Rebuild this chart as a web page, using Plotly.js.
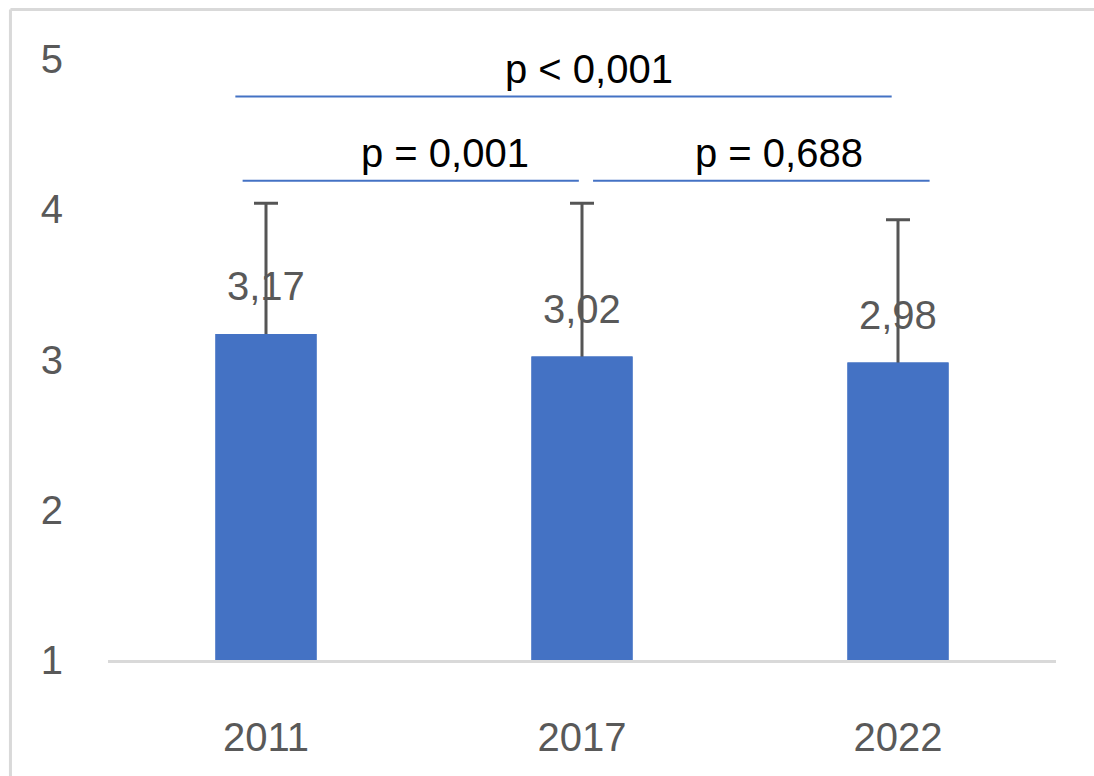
<!DOCTYPE html>
<html>
<head>
<meta charset="utf-8">
<script src="https://cdn.plot.ly/plotly-3.0.1.min.js"></script>
<style>
  html, body { margin: 0; padding: 0; background: #ffffff; }
  #chart { width: 1094px; height: 776px; }
</style>
</head>
<body>
<div id="chart"></div>
<script>
// ---- data ----
const years = ["2011", "2017", "2022"];
const means = [3.17, 3.02, 2.98];
const errors = [0.87, 1.02, 0.95];
const meanLabels = ["3,17", "3,02", "2,98"];
const yTicks = [1, 2, 3, 4, 5];

// significance brackets: [from index, to index, p-text]
const pTexts = ["p < 0,001", "p = 0,001", "p = 0,688"];
const pFrom = [0, 0, 1];
const pTo = [2, 1, 2];
const pLevel = [4.75, 4.19, 4.19];

const xs = years.map((_, i) => i);
const BLUE = "#4472C4";
const GREY = "#595959";
const FONT = "Liberation Sans, Arial, sans-serif";

const traces = [
  {
    type: "bar",
    x: xs,
    y: means,
    width: 0.32,
    marker: { color: BLUE },
    error_y: { type: "data", array: errors, symmetric: true, color: "#555555", thickness: 3, width: 12 },
    hoverinfo: "skip"
  },
  {
    type: "bar",
    x: xs,
    y: means,
    width: 0.32,
    marker: { color: BLUE },
    hoverinfo: "skip"
  }
];

const annotations = [];
xs.forEach((x, i) => {
  annotations.push({
    x: x, y: means[i], xref: "x", yref: "y",
    text: meanLabels[i], showarrow: false,
    yanchor: "middle", yshift: 48,
    font: { family: FONT, size: 40, color: GREY }
  });
});

const shapes = [];
const bracketPad = [[-0.097, -0.02], [-0.074, -0.01], [0.035, 0.10]];
const textShift = [0.08, 0.11, 0.055];
pTexts.forEach((t, k) => {
  const x0 = pFrom[k] + bracketPad[k][0];
  const x1 = pTo[k] + bracketPad[k][1];
  shapes.push({
    type: "line", xref: "x", yref: "y",
    x0: x0, x1: x1, y0: pLevel[k], y1: pLevel[k],
    line: { color: BLUE, width: 2 }
  });
  annotations.push({
    x: (x0 + x1) / 2 + textShift[k], y: pLevel[k], xref: "x", yref: "y",
    text: t, showarrow: false,
    yanchor: "bottom", yshift: 4,
    font: { family: FONT, size: 40, color: "#000000" }
  });
});

// outer frame (left and top edges)
shapes.push({
  type: "line", xref: "paper", yref: "paper",
  x0: -0.1029, x1: -0.1029, y0: 1.0824, y1: -0.3,
  line: { color: "#d9d9d9", width: 3 }
});
shapes.push({
  type: "line", xref: "paper", yref: "paper",
  x0: -0.1029, x1: 1.1, y0: 1.0824, y1: 1.0824,
  line: { color: "#d9d9d9", width: 3 }
});

const layout = {
  width: 1094, height: 776,
  margin: { l: 108, r: 38, t: 59, b: 116, pad: 0 },
  paper_bgcolor: "#ffffff",
  plot_bgcolor: "#ffffff",
  barmode: "overlay",
  showlegend: false,
  xaxis: {
    range: [-0.5, 2.5],
    tickvals: xs, ticktext: years,
    showgrid: false, zeroline: false,
    showline: true, linecolor: "#d9d9d9", linewidth: 3,
    ticks: "", ticklabelstandoff: 40,
    tickfont: { family: FONT, size: 40, color: GREY },
    fixedrange: true
  },
  yaxis: {
    range: [1, 5],
    tickvals: yTicks,
    showgrid: false, zeroline: false, showline: false,
    ticks: "", ticklabelstandoff: 44,
    tickfont: { family: FONT, size: 40, color: GREY },
    fixedrange: true
  },
  shapes: shapes,
  annotations: annotations
};

Plotly.newPlot("chart", traces, layout, { displayModeBar: false, staticPlot: true });
</script>
</body>
</html>
